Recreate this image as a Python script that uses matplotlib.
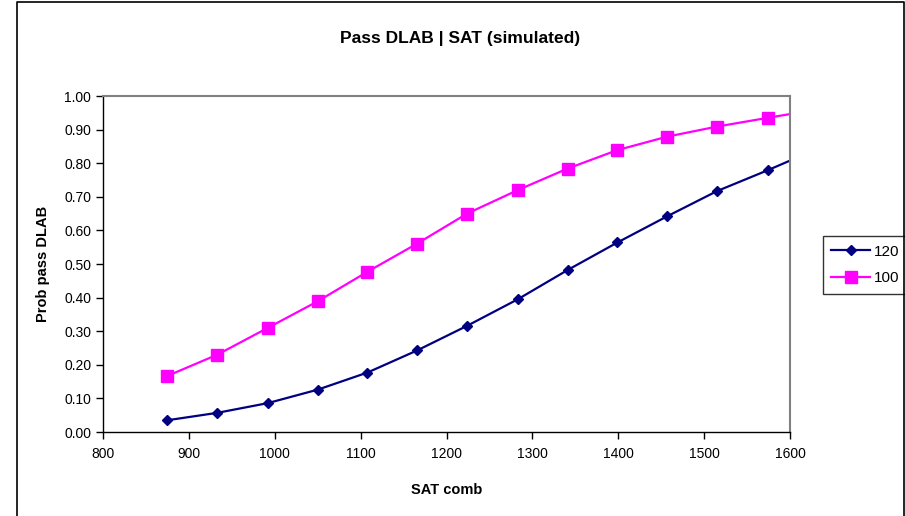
import matplotlib
matplotlib.use("Agg")
from matplotlib import pyplot as plt
from matplotlib.lines import Line2D

plt.rcParams['font.family'] = ['Liberation Sans', 'DejaVu Sans']

# data
sat = [875, 933, 992, 1050, 1108, 1166, 1224, 1283, 1341, 1399, 1457, 1515, 1574, 1632]
p120 = [0.035, 0.057, 0.086, 0.126, 0.177, 0.243, 0.316, 0.395, 0.482, 0.564, 0.642, 0.717, 0.779, 0.843]
p100 = [0.167, 0.230, 0.310, 0.389, 0.477, 0.561, 0.650, 0.720, 0.784, 0.839, 0.879, 0.909, 0.935, 0.960]
series_names = ['120', '100']

xticks = list(range(800, 1601, 100))
yticks = [i / 10 for i in range(11)]

fig = plt.figure(figsize=(9.05, 5.16), dpi=100)
ax = fig.add_axes([103 / 905, 1 - 432 / 516, (790 - 103) / 905, (432 - 96) / 516])

ax.plot(sat, p120, color='#000080', lw=1.6, marker='D', ms=5.5,
        mfc='#000080', mec='#000080', label=series_names[0], clip_on=True)
ax.plot(sat, p100, color='#FF00FF', lw=1.6, marker='s', ms=8,
        mfc='#FF00FF', mec='#FF00FF', label=series_names[1], clip_on=True)

ax.set_xlim(800, 1600)
ax.set_ylim(0, 1.0)
ax.set_xticks(xticks)
ax.set_yticks(yticks)
ax.set_yticklabels(['%.2f' % v for v in yticks])
ax.tick_params(direction='out', length=5, width=1, labelsize=10, colors='black')
ax.tick_params(axis='x', pad=6)

for s in ['left', 'bottom']:
    ax.spines[s].set_color('black')
    ax.spines[s].set_linewidth(1)
for s in ['top', 'right']:
    ax.spines[s].set_color('#808080')
    ax.spines[s].set_linewidth(1.5)

ax.set_xlabel('SAT comb', fontsize=10.5, fontweight='bold', labelpad=16)
ax.set_ylabel('Prob pass DLAB', fontsize=10.5, fontweight='bold', labelpad=10)
fig.text(0.508, 1 - 38 / 516, 'Pass DLAB | SAT (simulated)', ha='center', va='center',
         fontsize=12.5, fontweight='bold')

# legend box on the right, outside the plot
leg = ax.legend(loc='center left', bbox_to_anchor=(823 / 905, 1 - 265 / 516),
                bbox_transform=fig.transFigure, borderaxespad=0, frameon=True,
                fancybox=False, fontsize=11, handlelength=2.5, borderpad=0.55,
                labelspacing=0.85, handletextpad=0.25)
leg.get_frame().set_edgecolor('black')
leg.get_frame().set_linewidth(1)

# outer chart border
x0, x1 = 17 / 905, 904 / 905
y0, y1 = 0.0, 1 - 2 / 516
fig.add_artist(Line2D([x0, x0, x1, x1], [y0, y1, y1, y0], transform=fig.transFigure,
                      color='black', lw=1.2))

fig.savefig('out.png', dpi=100)
